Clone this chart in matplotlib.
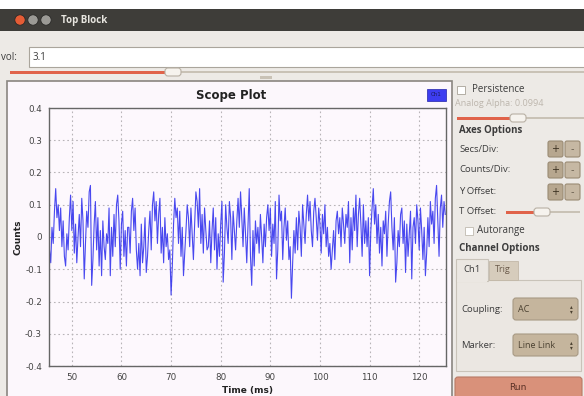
import numpy as np
import matplotlib
matplotlib.use('Agg')
import matplotlib.pyplot as plt
from matplotlib.patches import Rectangle, FancyBboxPatch, Circle

# scope trace (units of 0.01 counts, one value every 0.25 ms from 45.5 ms)
counts_raw = [
    -4, -8, 3, -2, 8, 15, 6, 10, 2, 9, -3, 5, -6, -9, 1, -4,
    6, 13, 2, 11, -5, 4, -8, 0, 7, -3, 12, 5, -13, -2, 8, 3,
    14, 16, -15, -7, 4, 11, -4, 6, -9, 2, -12, 5, -3, -7, 1, -2,
    9, -12, 3, -6, 7, -3, 10, 13, 5, -10, 4, 8, -6, 2, -9, 3,
    3, -5, 8, 12, 2, 9, -4, -10, -2, -12, 4, -8, -3, 6, -11, -6,
    2, 8, -4, 10, 14, 5, 11, -2, 7, 12, -5, 3, -8, 6, -3, 1,
    -7, -4, -18, -9, 4, 12, 6, 9, -2, 8, -6, 3, -12, -5, 2, 10,
    6, -3, 9, 1, -7, 4, 14, 11, 3, 15, -2, 7, -5, 9, 2, -4,
    -3, 5, -8, 2, 9, -4, 6, -10, 1, -6, 4, 11, -14, -5, 10, 3,
    -2, 11, 6, -7, 8, 2, -4, 5, 12, 3, 14, 6, -3, 9, 1, -8,
    4, 15, -6, -15, 2, -9, 5, -2, 3, -5, 7, 0, -8, 4, -3, 6,
    10, 2, 9, -6, 4, -2, 11, -13, -4, 13, 5, 8, -7, 3, 9, -1,
    5, -7, -3, -19, -8, 2, -5, 6, -4, 8, 3, -6, 10, 4, -2, 7,
    13, 5, 11, 2, -3, 8, 12, 6, -1, 9, 4, -5, 7, 1, 10, -3,
    3, -6, -2, -10, -4, 2, -7, 5, 8, 1, 6, -3, 9, 4, -2, 7,
    3, 11, -8, 6, -4, 9, 2, 13, -3, 7, 12, 4, -6, 10, -2, 5,
    -3, 6, -12, 2, 9, 15, 4, 10, -2, 7, -5, 3, -9, 5, 1, 8,
    -6, 4, 11, 14, 3, -4, 6, -14, -8, 2, -3, 7, 9, -2, 5, -11,
    4, -6, 1, 8, -13, 3, 6, -2, 10, 5, -4, 9, 2, -7, 3, -12,
    -5, 6, -3, 11, 4, 8, -2, 12, 16, 5, -6, 9, 13, 3, 11, 7,
]
t_start = 45.5
t_step = 0.25
xticks = [50, 60, 70, 80, 90, 100, 110, 120]
yticks = [-0.4, -0.3, -0.2, -0.1, 0, 0.1, 0.2, 0.3, 0.4]
ytick_labels = ['-0.4', '-0.3', '-0.2', '-0.1', '0', '0.1', '0.2', '0.3', '0.4']

counts = np.array(counts_raw) / 100.0
time_ms = t_start + t_step * np.arange(len(counts))

W, H = 584, 396
fig = plt.figure(figsize=(W / 100, H / 100), dpi=100)
fig.patch.set_facecolor('#edeae6')

gui_font = 'Open Sans'
bg = fig.add_axes([0, 0, 1, 1], zorder=0)
bg.set_xlim(0, W)
bg.set_ylim(H, 0)
bg.axis('off')

def box(x0, y0, x1, y1, fc, ec='none', lw=0.8, z=1):
    bg.add_patch(Rectangle((x0, y0), x1 - x0, y1 - y0, facecolor=fc, edgecolor=ec, lw=lw, zorder=z))

def rbox(x0, y0, x1, y1, fc, ec='none', lw=0.8, r=3, z=1):
    bg.add_patch(FancyBboxPatch((x0, y0), x1 - x0, y1 - y0, boxstyle='round,pad=0,rounding_size=%g' % r,
                                facecolor=fc, edgecolor=ec, lw=lw, zorder=z, mutation_aspect=1))

def label(x, y, s, size=7, **kw):
    kw.setdefault('color', '#3c3c3c')
    kw.setdefault('family', gui_font)
    bg.text(x, y, s, fontsize=size, va='center', zorder=5, **kw)

def slider(x0, x1, xh, y):
    box(x0, y - 1.5, xh, y + 1.5, '#e0634a')
    box(xh, y - 1.2, x1, y + 1.2, '#c9c2b6')
    rbox(xh - 7, y - 4, xh + 9, y + 4, '#f6f3ee', '#b8b0a4', r=3, z=3)

# window title bar
box(0, 0, W, 9, '#ffffff')
box(0, 9, W, 31, '#3e3d39')
for cx, c in [(20, '#e45c35'), (33, '#9b9a95'), (46, '#9b9a95')]:
    bg.add_patch(Circle((cx, 20), 5.2, facecolor=c, edgecolor='#2a2a28', lw=0.6, zorder=3))
label(61, 20.5, 'Top Block', size=7, color='#e8e6e0', weight='bold')

# vol entry and slider
label(1, 57, 'vol:', size=7)
box(29, 47, W + 2, 67, '#ffffff', '#aaa59c', lw=0.8)
label(33, 57, '3.1', size=7)
slider(10, W, 172, 72)
box(260, 76, 272, 79, '#c9c2b6')

# scope panel
box(7, 81, 452, 400, '#fcf7fc', '#8a8680', lw=1.2)
bg.text(231, 95, 'Scope Plot', fontsize=8.5, weight='bold', ha='center', va='center', color='#222222', zorder=5)
box(427, 89, 446, 101, '#3d3df0', '#2222aa', lw=0.5, z=3)
bg.text(436.5, 95, 'Ch1', fontsize=4, ha='center', va='center', color='#1a1a60', zorder=5)

# right control panel
box(457, 86, 465, 94, '#ffffff', '#a8a298', lw=0.6)
label(472, 90, 'Persistence', size=7)
label(455, 104, 'Analog Alpha: 0.0994', size=6.5, color='#bdb6ad')
slider(457, W, 517, 118)
label(459, 131, 'Axes Options', size=7, weight='bold')
for y, s in [(149, 'Secs/Div:'), (170, 'Counts/Div:'), (192, 'Y Offset:')]:
    label(459, y, s, size=6.8)
    rbox(548, y - 8, 563, y + 8, '#b7a78f', '#9a8b74', r=2)
    rbox(565, y - 8, 580, y + 8, '#c6b8a3', '#9a8b74', r=2)
    bg.text(555.5, y, '+', fontsize=7, ha='center', va='center', color='#3a3020', zorder=5)
    bg.text(572.5, y, '-', fontsize=7, ha='center', va='center', color='#6a6050', zorder=5)
label(459, 212, 'T Offset:', size=6.8)
slider(506, 580, 541, 212)
box(465, 227, 473, 235, '#ffffff', '#c0bab0', lw=0.6)
label(477, 231, 'Autorange', size=7)
label(459, 249, 'Channel Options', size=7, weight='bold')
box(456, 280, 581, 371, '#ebe7e2', '#c9c3b9', lw=0.8)
box(456, 259, 488, 281, '#ebe7e2', '#c9c3b9', lw=0.8, z=2)
box(457, 279, 487, 282, '#ebe7e2', z=3)
box(489, 261, 518, 280, '#d6ccbc', '#c2b8a8', lw=0.6)
label(463, 269, 'Ch1', size=6.8)
label(495, 270, 'Trig', size=6.5, color='#6a5a4a')
for y, s, v in [(309, 'Coupling:', 'AC'), (345, 'Marker:', 'Line Link')]:
    label(461, y, s, size=6.8)
    rbox(513, y - 11, 578, y + 11, '#c5b59d', '#a89a84', r=3)
    label(518, y, v, size=6.5, color='#4a4030')
    bg.text(571, y, '\u25b4\n\u25be', fontsize=4, ha='center', va='center', color='#4a4030',
            linespacing=0.8, zorder=5)
rbox(455, 377, 582, 400, '#d9917a', '#b87a66', r=3)
bg.text(518, 387, 'Run', fontsize=6.5, ha='center', va='center', color='#5a3025', zorder=5)

# plot axes
x0, x1, y0, y1 = 49, 446, 108, 366
ax = fig.add_axes([x0 / W, 1 - y1 / H, (x1 - x0) / W, (y1 - y0) / H], zorder=2)
ax.set_facecolor('#fdf8fd')
ax.plot(time_ms, counts, color='#3535ee', lw=0.8, alpha=0.9)
ax.set_xlim(45.4, 125.4)
ax.set_ylim(-0.4, 0.4)
ax.set_xticks(xticks)
ax.set_yticks(yticks)
ax.set_yticklabels(ytick_labels)
ax.tick_params(labelsize=6.3, colors='#444444', length=0, pad=5)
ax.grid(True, color='#b8b4b8', linestyle=(0, (1.5, 2.5)), lw=0.8)
for sp in ax.spines.values():
    sp.set_color('#666666')
    sp.set_linewidth(1.0)
ax.set_xlabel('Time (ms)', fontsize=6.5, weight='bold', labelpad=3, color='#222222')
ax.set_ylabel('Counts', fontsize=6.5, weight='bold', labelpad=2, color='#222222')

fig.savefig('out.png', dpi=100, facecolor=fig.get_facecolor())
